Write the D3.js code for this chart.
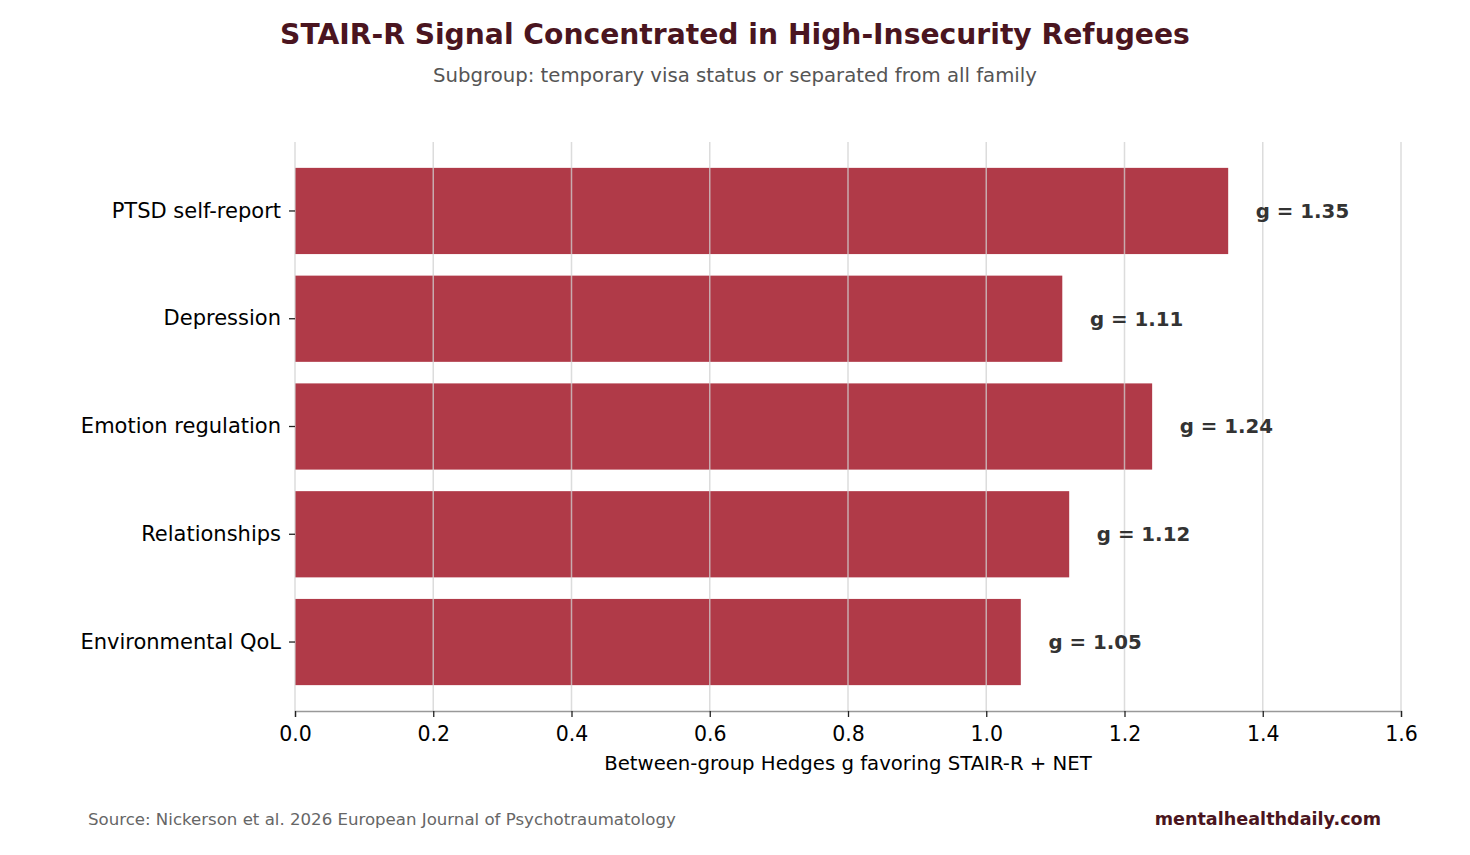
<!DOCTYPE html>
<html>
<head>
<meta charset="utf-8">
<script src="https://cdn.jsdelivr.net/npm/d3@7"></script>
<style>
  body { margin: 0; background: #fff; }
  text { font-family: 'DejaVu Sans', sans-serif; }
</style>
</head>
<body>
<div id="chart"></div>
<script>
const outcomes = ['PTSD self-report', 'Depression', 'Emotion regulation', 'Relationships', 'Environmental QoL']
const hedgesG = [1.35, 1.11, 1.24, 1.12, 1.05]
const xTicks = [0, 0.2, 0.4, 0.6, 0.8, 1.0, 1.2, 1.4, 1.6]

const width = 1470
const height = 855
const margin = { top: 142, left: 295, right: 69, bottom: 144 }

const barColor = '#b03a48'
const darkRed = '#4a1520'

const svg = d3
  .select('#chart')
  .append('svg')
  .attr('width', width)
  .attr('height', height)

const xScale = d3.scaleLinear()
  .domain([0, 1.6])
  .range([margin.left, width - margin.right])

const yScale = d3.scaleBand()
  .domain(outcomes)
  .range([margin.top, height - margin.bottom])
  .paddingInner(0.2)
  .paddingOuter(0.24)

const data = outcomes.map((d, i) => ({ name: d, g: hedgesG[i] }))

// bars
svg.selectAll('rect.bar')
  .data(data)
  .enter()
  .append('rect')
  .attr('class', 'bar')
  .attr('x', xScale(0))
  .attr('y', d => yScale(d.name))
  .attr('width', d => xScale(d.g) - xScale(0))
  .attr('height', yScale.bandwidth())
  .attr('fill', barColor)

// vertical grid, drawn over the bars like the original
svg.selectAll('line.grid')
  .data(xTicks)
  .enter()
  .append('line')
  .attr('class', 'grid')
  .attr('x1', d => xScale(d))
  .attr('x2', d => xScale(d))
  .attr('y1', margin.top)
  .attr('y2', height - margin.bottom)
  .attr('stroke', '#d0d0d0')
  .attr('stroke-opacity', 0.75)
  .attr('stroke-width', 1.5)

// value labels
svg.selectAll('text.value')
  .data(data)
  .enter()
  .append('text')
  .attr('class', 'value')
  .attr('x', d => xScale(d.g + 0.04))
  .attr('y', d => yScale(d.name) + yScale.bandwidth() / 2)
  .attr('dy', '0.35em')
  .attr('font-size', 19.8)
  .attr('font-weight', 'bold')
  .attr('fill', '#333')
  .text(d => 'g = ' + d.g.toFixed(2))

// x axis
const xAxis = svg.append('g')
  .attr('transform', `translate(0,${height - margin.bottom})`)
  .call(d3.axisBottom(xScale).tickValues(xTicks).tickFormat(d3.format('.1f')).tickSize(6).tickPadding(9))
xAxis.select('.domain').attr('stroke', '#999').attr('stroke-width', 1.5)
xAxis.selectAll('.tick line').attr('stroke', '#222').attr('stroke-width', 1.3)
xAxis.selectAll('.tick text')
  .attr('font-size', 20.5)
  .attr('fill', '#000')
  .style('font-family', "'DejaVu Sans', sans-serif")

// y axis
const yAxis = svg.append('g')
  .attr('transform', `translate(${margin.left},0)`)
  .call(d3.axisLeft(yScale).tickSize(6).tickPadding(8))
yAxis.select('.domain').remove()
yAxis.selectAll('.tick line').attr('stroke', '#222').attr('stroke-width', 1.3)
yAxis.selectAll('.tick text')
  .attr('font-size', 21)
  .attr('fill', '#000')
  .style('font-family', "'DejaVu Sans', sans-serif")

// titles
svg.append('text')
  .text('STAIR-R Signal Concentrated in High-Insecurity Refugees')
  .attr('x', width / 2)
  .attr('y', 44)
  .attr('text-anchor', 'middle')
  .attr('font-size', 28.2)
  .attr('font-weight', 'bold')
  .attr('fill', darkRed)

svg.append('text')
  .text('Subgroup: temporary visa status or separated from all family')
  .attr('x', width / 2)
  .attr('y', 82)
  .attr('text-anchor', 'middle')
  .attr('font-size', 19.7)
  .attr('fill', '#555')

svg.append('text')
  .text('Between-group Hedges g favoring STAIR-R + NET')
  .attr('x', xScale(0.8))
  .attr('y', 770)
  .attr('text-anchor', 'middle')
  .attr('font-size', 19.7)
  .attr('fill', '#000')

// footer
svg.append('text')
  .text('Source: Nickerson et al. 2026 European Journal of Psychotraumatology')
  .attr('x', 88)
  .attr('y', 825)
  .attr('font-size', 16.6)
  .attr('fill', '#666')

svg.append('text')
  .text('mentalhealthdaily.com')
  .attr('x', 1381)
  .attr('y', 825)
  .attr('text-anchor', 'end')
  .attr('font-size', 17.6)
  .attr('font-weight', 'bold')
  .attr('fill', darkRed)
</script>
</body>
</html>
